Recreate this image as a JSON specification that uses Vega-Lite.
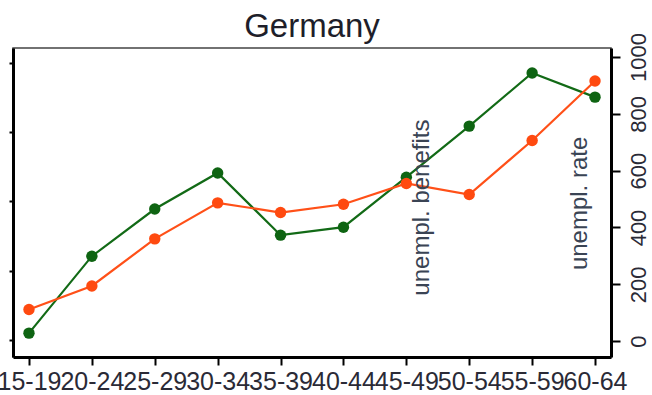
{
  "$schema": "https://vega.github.io/schema/vega-lite/v6.json",
  "width": 598,
  "height": 309,
  "autosize": {"type": "none"},
  "padding": {"left": 13, "top": 48, "right": 41, "bottom": 38},
  "title": {
    "text": "Germany",
    "font": "Liberation Sans",
    "fontSize": 33,
    "fontWeight": "normal",
    "color": "#1e1e2a",
    "frame": "group",
    "anchor": "middle",
    "offset": 8,
    "dy": 19
  },
  "config": {
    "font": "Liberation Sans",
    "view": {"stroke": "#444444", "strokeWidth": 1.5}
  },
  "data": {
    "values": [
      {"age": "15-19", "benefits": 28, "rate": 2.2},
      {"age": "20-24", "benefits": 299, "rate": 3.9},
      {"age": "25-29", "benefits": 465, "rate": 7.3},
      {"age": "30-34", "benefits": 592, "rate": 9.9},
      {"age": "35-39", "benefits": 373, "rate": 9.2},
      {"age": "40-44", "benefits": 401, "rate": 9.8},
      {"age": "45-49", "benefits": 577, "rate": 11.3},
      {"age": "50-54", "benefits": 757, "rate": 10.5},
      {"age": "55-59", "benefits": 944, "rate": 14.4},
      {"age": "60-64", "benefits": 859, "rate": 18.7}
    ]
  },
  "encoding": {
    "x": {
      "field": "age",
      "type": "ordinal",
      "sort": null,
      "scale": {"type": "point", "padding": 0.254},
      "axis": {
        "title": null,
        "labelAngle": 0,
        "labelFontSize": 25,
        "labelColor": "#2a2a36",
        "labelPadding": 4,
        "labelOverlap": false,
        "labelBound": false,
        "labelFlush": false,
        "tickSize": 8,
        "tickWidth": 2,
        "tickColor": "#000000",
        "domainColor": "#000000",
        "domainWidth": 3,
        "grid": false
      }
    }
  },
  "layer": [
    {
      "encoding": {
        "y": {
          "field": "benefits",
          "type": "quantitative",
          "scale": {"domain": [-56, 1032], "nice": false, "zero": false},
          "axis": {
            "orient": "right",
            "title": null,
            "values": [0, 200, 400, 600, 800, 1000],
            "format": "d",
            "labelAngle": 270,
            "labelAlign": "center",
            "labelBaseline": "top",
            "labelFontSize": 22,
            "labelColor": "#2a2a36",
            "labelPadding": 8,
            "tickSize": 9,
            "tickWidth": 2,
            "tickColor": "#000000",
            "domainColor": "#000000",
            "domainWidth": 3,
            "grid": false
          }
        }
      },
      "layer": [
        {"mark": {"type": "line", "color": "#126a16", "strokeWidth": 2.2}},
        {"mark": {"type": "point", "filled": true, "opacity": 1, "size": 130, "color": "#0e6412"}}
      ]
    },
    {
      "encoding": {
        "y": {
          "field": "rate",
          "type": "quantitative",
          "scale": {"domain": [-1.23, 21.08], "nice": false, "zero": false},
          "axis": {
            "orient": "left",
            "title": null,
            "values": [0, 5, 10, 15, 20],
            "labels": false,
            "tickSize": 4,
            "tickWidth": 2,
            "tickColor": "#000000",
            "domainColor": "#000000",
            "domainWidth": 3,
            "grid": false
          }
        }
      },
      "layer": [
        {"mark": {"type": "line", "color": "#ff5018", "strokeWidth": 2.2}},
        {"mark": {"type": "point", "filled": true, "opacity": 1, "size": 130, "color": "#ff4a10"}}
      ]
    },
    {
      "data": {"values": [{"age": "45-49", "pos": 160, "label": "unempl. benefits"}]},
      "mark": {"type": "text", "angle": 270, "align": "left", "baseline": "middle", "dy": 16, "fontSize": 24, "color": "#3a4454"},
      "encoding": {
        "y": {"field": "pos", "type": "quantitative", "scale": {"domain": [-56, 1032], "nice": false, "zero": false}, "axis": null},
        "text": {"field": "label"}
      }
    },
    {
      "data": {"values": [{"age": "60-64", "pos": 250, "label": "unempl. rate"}]},
      "mark": {"type": "text", "angle": 270, "align": "left", "baseline": "middle", "dy": -15, "fontSize": 24, "color": "#3a4454"},
      "encoding": {
        "y": {"field": "pos", "type": "quantitative", "scale": {"domain": [-56, 1032], "nice": false, "zero": false}, "axis": null},
        "text": {"field": "label"}
      }
    }
  ],
  "resolve": {"scale": {"y": "independent"}, "axis": {"y": "independent"}}
}
